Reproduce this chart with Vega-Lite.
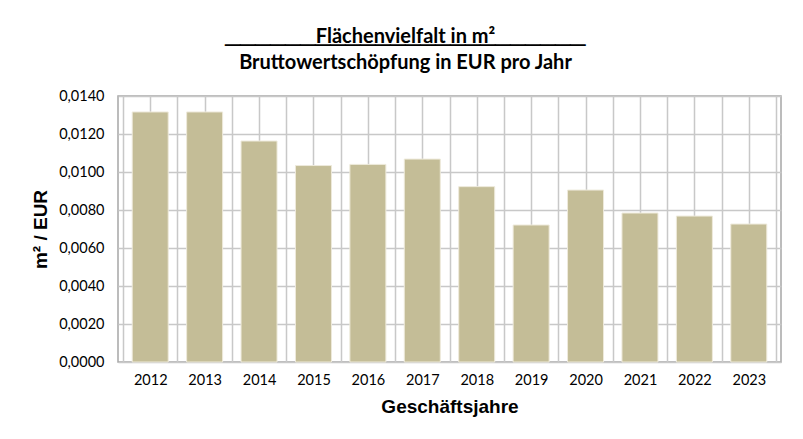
{
  "$schema": "https://vega.github.io/schema/vega-lite/v6.json",
  "autosize": "none",
  "width": 663,
  "height": 266,
  "padding": {"left": 118, "top": 96, "right": 22, "bottom": 77},
  "background": "white",
  "config": {
    "locale": {"number": {"decimal": ",", "thousands": ".", "grouping": [3], "currency": ["", " €"]}},
    "view": {"stroke": "#a6a6a6", "strokeWidth": 1.5},
    "axis": {"domain": false, "ticks": false, "gridColor": "#c8c8c8", "gridWidth": 1.5, "gridOpacity": 1}
  },
  "title": {
    "text": "Flächenvielfalt in m²",
    "subtitle": ["────────────────────────", "Bruttowertschöpfung in EUR pro Jahr"],
    "anchor": "middle",
    "frame": "group",
    "dx": -44,
    "font": "Lato",
    "fontSize": 20,
    "fontWeight": "bold",
    "color": "#000000",
    "subtitleFont": "Lato",
    "subtitleFontSize": 20,
    "subtitleFontWeight": "bold",
    "subtitleColor": "#000000",
    "subtitleLineHeight": 18,
    "subtitlePadding": -12,
    "offset": 15
  },
  "data": {
    "values": [
      {"Jahr": 2012, "Wert": 0.01316},
      {"Jahr": 2013, "Wert": 0.01316},
      {"Jahr": 2014, "Wert": 0.01163},
      {"Jahr": 2015, "Wert": 0.01034},
      {"Jahr": 2016, "Wert": 0.01040},
      {"Jahr": 2017, "Wert": 0.01068},
      {"Jahr": 2018, "Wert": 0.00923},
      {"Jahr": 2019, "Wert": 0.00721},
      {"Jahr": 2020, "Wert": 0.00905},
      {"Jahr": 2021, "Wert": 0.00784},
      {"Jahr": 2022, "Wert": 0.00768},
      {"Jahr": 2023, "Wert": 0.00726}
    ]
  },
  "mark": {"type": "bar", "color": "#c4bd97", "size": 36, "stroke": "#eeeadb", "strokeWidth": 1},
  "encoding": {
    "x": {
      "field": "Jahr",
      "type": "quantitative",
      "scale": {"domain": [2011.5, 2023.5], "nice": false, "zero": false},
      "axis": {
        "values": [2011.5, 2012, 2012.5, 2013, 2013.5, 2014, 2014.5, 2015, 2015.5, 2016, 2016.5, 2017, 2017.5, 2018, 2018.5, 2019, 2019.5, 2020, 2020.5, 2021, 2021.5, 2022, 2022.5, 2023, 2023.5],
        "labelExpr": "datum.value % 1 == 0 ? datum.value : ''",
        "labelFont": "Lato",
        "labelFontSize": 14.5,
        "labelColor": "#000000",
        "labelPadding": 11,
        "labelFlush": false,
        "labelOverlap": false,
        "title": "Geschäftsjahre",
        "titleFont": "Liberation Sans",
        "titleFontSize": 19,
        "titleFontWeight": "bold",
        "titleColor": "#000000",
        "titlePadding": 11
      }
    },
    "y": {
      "field": "Wert",
      "type": "quantitative",
      "scale": {"domain": [0, 0.014], "nice": false},
      "axis": {
        "values": [0, 0.002, 0.004, 0.006, 0.008, 0.01, 0.012, 0.014],
        "format": ".4f",
        "labelFont": "Lato",
        "labelFontSize": 14.5,
        "labelColor": "#000000",
        "labelPadding": 14,
        "title": "m² / EUR",
        "titleFont": "Liberation Sans",
        "titleFontSize": 19,
        "titleFontWeight": "bold",
        "titleColor": "#000000",
        "titlePadding": 8
      }
    }
  }
}
